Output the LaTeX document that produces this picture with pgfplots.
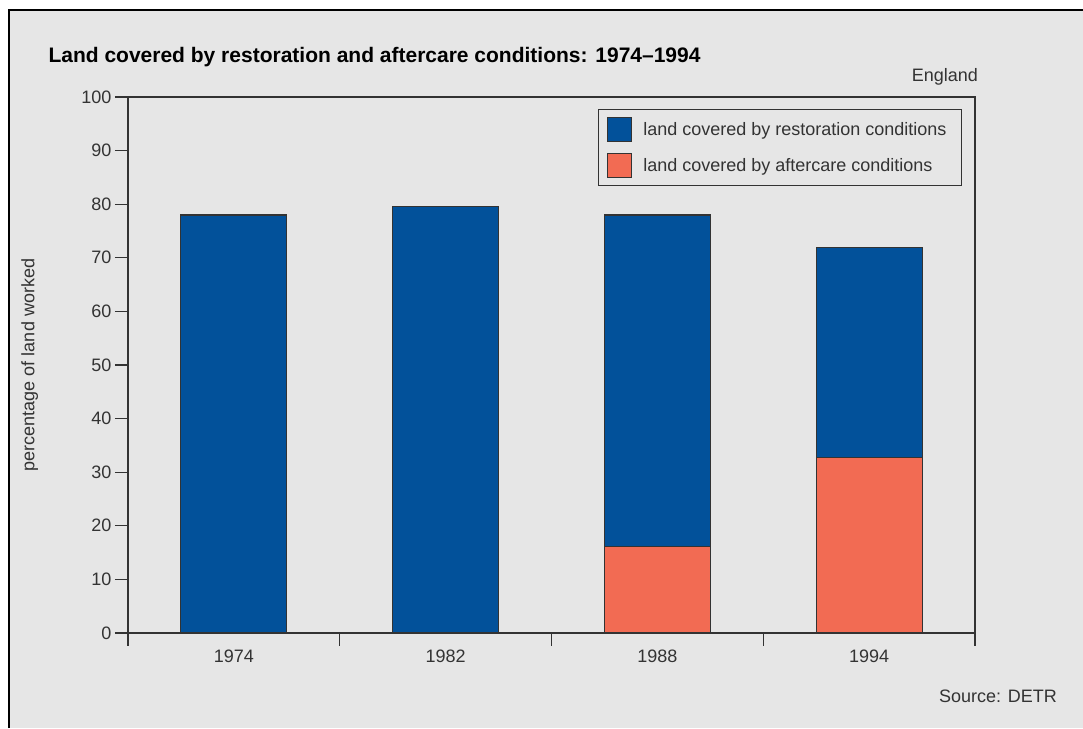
\documentclass[border=0pt]{standalone}
\usepackage{pgfplots}
\pgfplotsset{compat=1.18}
\usepackage{fontspec}
\setmainfont{Liberation Sans}

\definecolor{bg}{HTML}{E6E6E6}
\definecolor{axisgray}{HTML}{333333}
\definecolor{restor}{HTML}{02519A}
\definecolor{aftercare}{HTML}{F26B53}

\newcommand{\lbl}{\fontsize{18}{21.6}\selectfont}

\begin{document}
\begin{tikzpicture}
  % page: white margin, grey panel framed on top and left
  \useasboundingbox (0,0) rectangle (1083pt,728pt);
  \fill[white] (0,0) rectangle (1083pt,728pt);
  \fill[bg] (9pt,0) rectangle (1083pt,718pt);
  \draw[line width=1.5pt, black] (9pt,0) -- (9pt,718pt) -- (1083pt,718pt);

  \node[anchor=base west, font=\fontsize{21}{25}\selectfont\bfseries] at (45pt,665pt)
    {Land covered by restoration and aftercare conditions: 1974–1994};
  \node[anchor=base east, font=\lbl, text=axisgray, inner sep=0pt] at (978pt,646pt) {England};
  \node[anchor=base east, font=\lbl, text=axisgray, inner sep=0pt] at (1057pt,26pt) {Source: DETR};

  \begin{axis}[
    at={(128pt,95pt)}, anchor=south west,
    scale only axis, width=847pt, height=536pt,
    xmin=-0.5, xmax=3.5, ymin=0, ymax=100,
    ybar stacked, bar width=106pt,
    axis line style={draw=axisgray, line width=1.3pt},
    xtick={-0.5,0.5,1.5,2.5,3.5},
    x tick label as interval,
    xticklabels={1974,1982,1988,1994},
    ytick={0,10,...,100},
    tick style={draw=axisgray, line width=1.3pt},
    major tick length=13pt, tick align=outside, tick pos=left,
    ticklabel style={font=\lbl, text=axisgray},
    /pgf/number format/assume math mode=true,
    ylabel={percentage of land worked},
    ylabel style={font=\lbl, text=axisgray, at={(axis description cs:-0.116,0.5)}, anchor=center},
    reverse legend,
    legend cell align=left,
    legend style={at={(0.9847,0.9776)}, anchor=north east, draw=axisgray, line width=1.2pt,
      fill=none, font=\lbl, text=axisgray, inner xsep=13pt, inner ysep=8pt, row sep=12pt},
    legend image code/.code={
      \path[draw=none, fill=none] (4pt,-12pt) rectangle (34pt,12pt);
      \draw[#1, draw=axisgray, line width=1.2pt, overlay] (0pt,-12pt) rectangle (24pt,12pt);},
  ]
    \addplot[fill=aftercare, draw=axisgray, line width=1.2pt] coordinates {(0,0) (1,0) (2,16.1) (3,32.8)};
    \addplot[fill=restor, draw=axisgray, line width=1.2pt] coordinates {(0,78) (1,79.6) (2,61.9) (3,39.1)};
    \legend{land covered by aftercare conditions, land covered by restoration conditions}
  \end{axis}
\end{tikzpicture}
\end{document}
